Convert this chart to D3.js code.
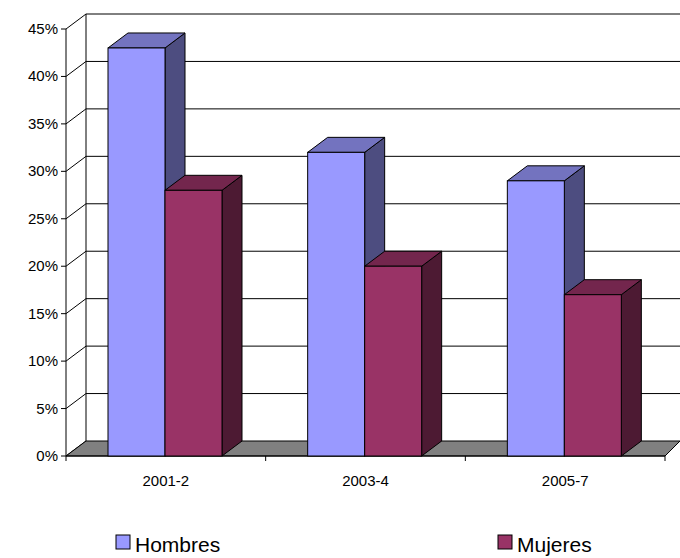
<!DOCTYPE html>
<html><head><meta charset="utf-8">
<script src="https://cdn.jsdelivr.net/npm/d3@7"></script>
<style>body{margin:0;background:#fff}text{font-family:"Liberation Sans",Arial,sans-serif}</style>
</head><body>
<svg id="c" width="680" height="558"></svg>
<script>
var categories = ["2001-2", "2003-4", "2005-7"];
var hombres = [43, 32, 29];
var mujeres = [28, 20, 17];
var yTicks = [0, 5, 10, 15, 20, 25, 30, 35, 40, 45];

var svg = d3.select("#c");
var dx = 20, dy = -15;
var x = d3.scaleBand().domain(categories).range([66, 665]);
var y = d3.scaleLinear().domain([0, 45]).range([456, 29]);

// back wall gridlines + left diagonals
yTicks.forEach(function(t){
  svg.append("line").attr("x1", 66).attr("y1", y(t)).attr("x2", 66+dx).attr("y2", y(t)+dy).attr("stroke","#000");
  if (t > 0) svg.append("line").attr("x1", 66+dx).attr("y1", y(t)+dy).attr("x2", 680).attr("y2", y(t)+dy).attr("stroke","#000");
});
svg.append("line").attr("x1",66+dx).attr("y1",y(45)+dy).attr("x2",66+dx).attr("y2",y(0)+dy).attr("stroke","#000");
// floor
svg.append("polygon").attr("points",[[66,y(0)],[66+dx,y(0)+dy],[680,y(0)+dy],[665,y(0)]].join(" "))
  .attr("fill","#808080").attr("stroke","#000");

// y axis
svg.append("line").attr("x1",66).attr("y1",y(0)).attr("x2",66).attr("y2",y(45)).attr("stroke","#000");
yTicks.forEach(function(t){
  svg.append("line").attr("x1",61).attr("x2",66).attr("y1",y(t)).attr("y2",y(t)).attr("stroke","#000");
  svg.append("text").attr("x",58).attr("y",y(t)+5).attr("text-anchor","end").attr("font-size",15).text(t+"%");
});
// x axis
svg.append("line").attr("x1",66).attr("x2",665).attr("y1",y(0)).attr("y2",y(0)).attr("stroke","#000");
[66].concat(categories.map(function(c){return x(c)+x.bandwidth();})).forEach(function(p){
  svg.append("line").attr("x1",p).attr("x2",p).attr("y1",y(0)).attr("y2",y(0)+5).attr("stroke","#000");
});
categories.forEach(function(c){
  svg.append("text").attr("x",x(c)+x.bandwidth()/2).attr("y",y(0)+30).attr("text-anchor","middle").attr("font-size",15).text(c);
});

function bar(x0, w, v, front, top, side){
  var x1 = x0 + w, yt = y(v), yb = y(0);
  var g = svg.append("g").attr("stroke","#000").attr("stroke-width",1);
  g.append("polygon").attr("points",[[x1,yt],[x1+dx,yt+dy],[x1+dx,yb+dy],[x1,yb]].join(" ")).attr("fill",side);
  g.append("polygon").attr("points",[[x0,yt],[x0+dx,yt+dy],[x1+dx,yt+dy],[x1,yt]].join(" ")).attr("fill",top);
  g.append("rect").attr("x",x0).attr("y",yt).attr("width",w).attr("height",yb-yt).attr("fill",front);
}
var bw = 57, off = 42;
categories.forEach(function(c,i){
  bar(x(c)+off, bw, hombres[i], "#9999ff", "#7373bf", "#4d4d80");
  bar(x(c)+off+bw, bw, mujeres[i], "#993366", "#73264d", "#4d1a33");
});

// legend
[["Hombres","#9999ff",116],["Mujeres","#993366",498]].forEach(function(l){
  svg.append("rect").attr("x",l[2]).attr("y",535).attr("width",14).attr("height",14).attr("fill",l[1]).attr("stroke","#000");
  svg.append("text").attr("x",l[2]+19).attr("y",552).attr("font-size",21).text(l[0]);
});
</script>
</body></html>
